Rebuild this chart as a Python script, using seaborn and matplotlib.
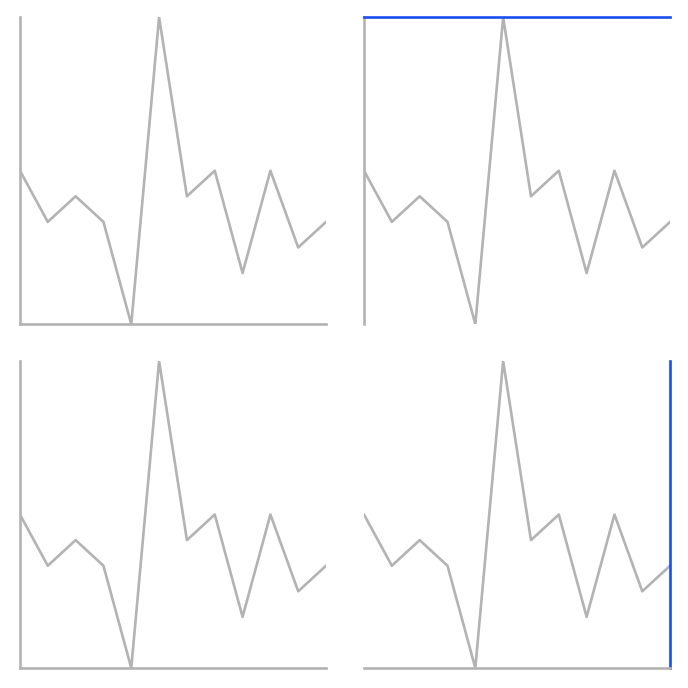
import matplotlib
matplotlib.use("Agg")
import matplotlib.pyplot as plt
import numpy as np
import pandas as pd
import seaborn as sns

x_vals = list(range(12))
y_vals = [6, 4, 5, 4, 0, 12, 5, 6, 2, 6, 3, 4]

# spines visible per panel: (left, bottom, top, right)
panel_spines = [
    {"left": "gray", "bottom": "gray"},
    {"left": "gray", "top": "blue"},
    {"left": "gray", "bottom": "gray"},
    {"bottom": "gray", "right": "blue"},
]
colors = {"gray": "#b3b3b3", "blue": "#1a4ff0"}

df = pd.DataFrame({"x": x_vals, "y": y_vals})

sns.set_style("white")
fig, axes = plt.subplots(2, 2, figsize=(6.88, 6.88), dpi=100)
fig.subplots_adjust(left=0.029, right=0.974, top=0.975, bottom=0.029,
                    wspace=0.124, hspace=0.12)

for ax, spines in zip(axes.flat, panel_spines):
    sns.lineplot(data=df, x="x", y="y", ax=ax, color="#b3b3b3", linewidth=1.9)
    ax.set_xlim(min(x_vals), max(x_vals))
    ax.set_ylim(min(y_vals), max(y_vals))
    ax.set_xticks([])
    ax.set_yticks([])
    ax.set_xlabel("")
    ax.set_ylabel("")
    for side in ["left", "bottom", "top", "right"]:
        if side in spines:
            ax.spines[side].set_visible(True)
            ax.spines[side].set_color(colors[spines[side]])
            ax.spines[side].set_linewidth(1.9)
        else:
            ax.spines[side].set_visible(False)

plt.savefig("out.png", dpi=100)
